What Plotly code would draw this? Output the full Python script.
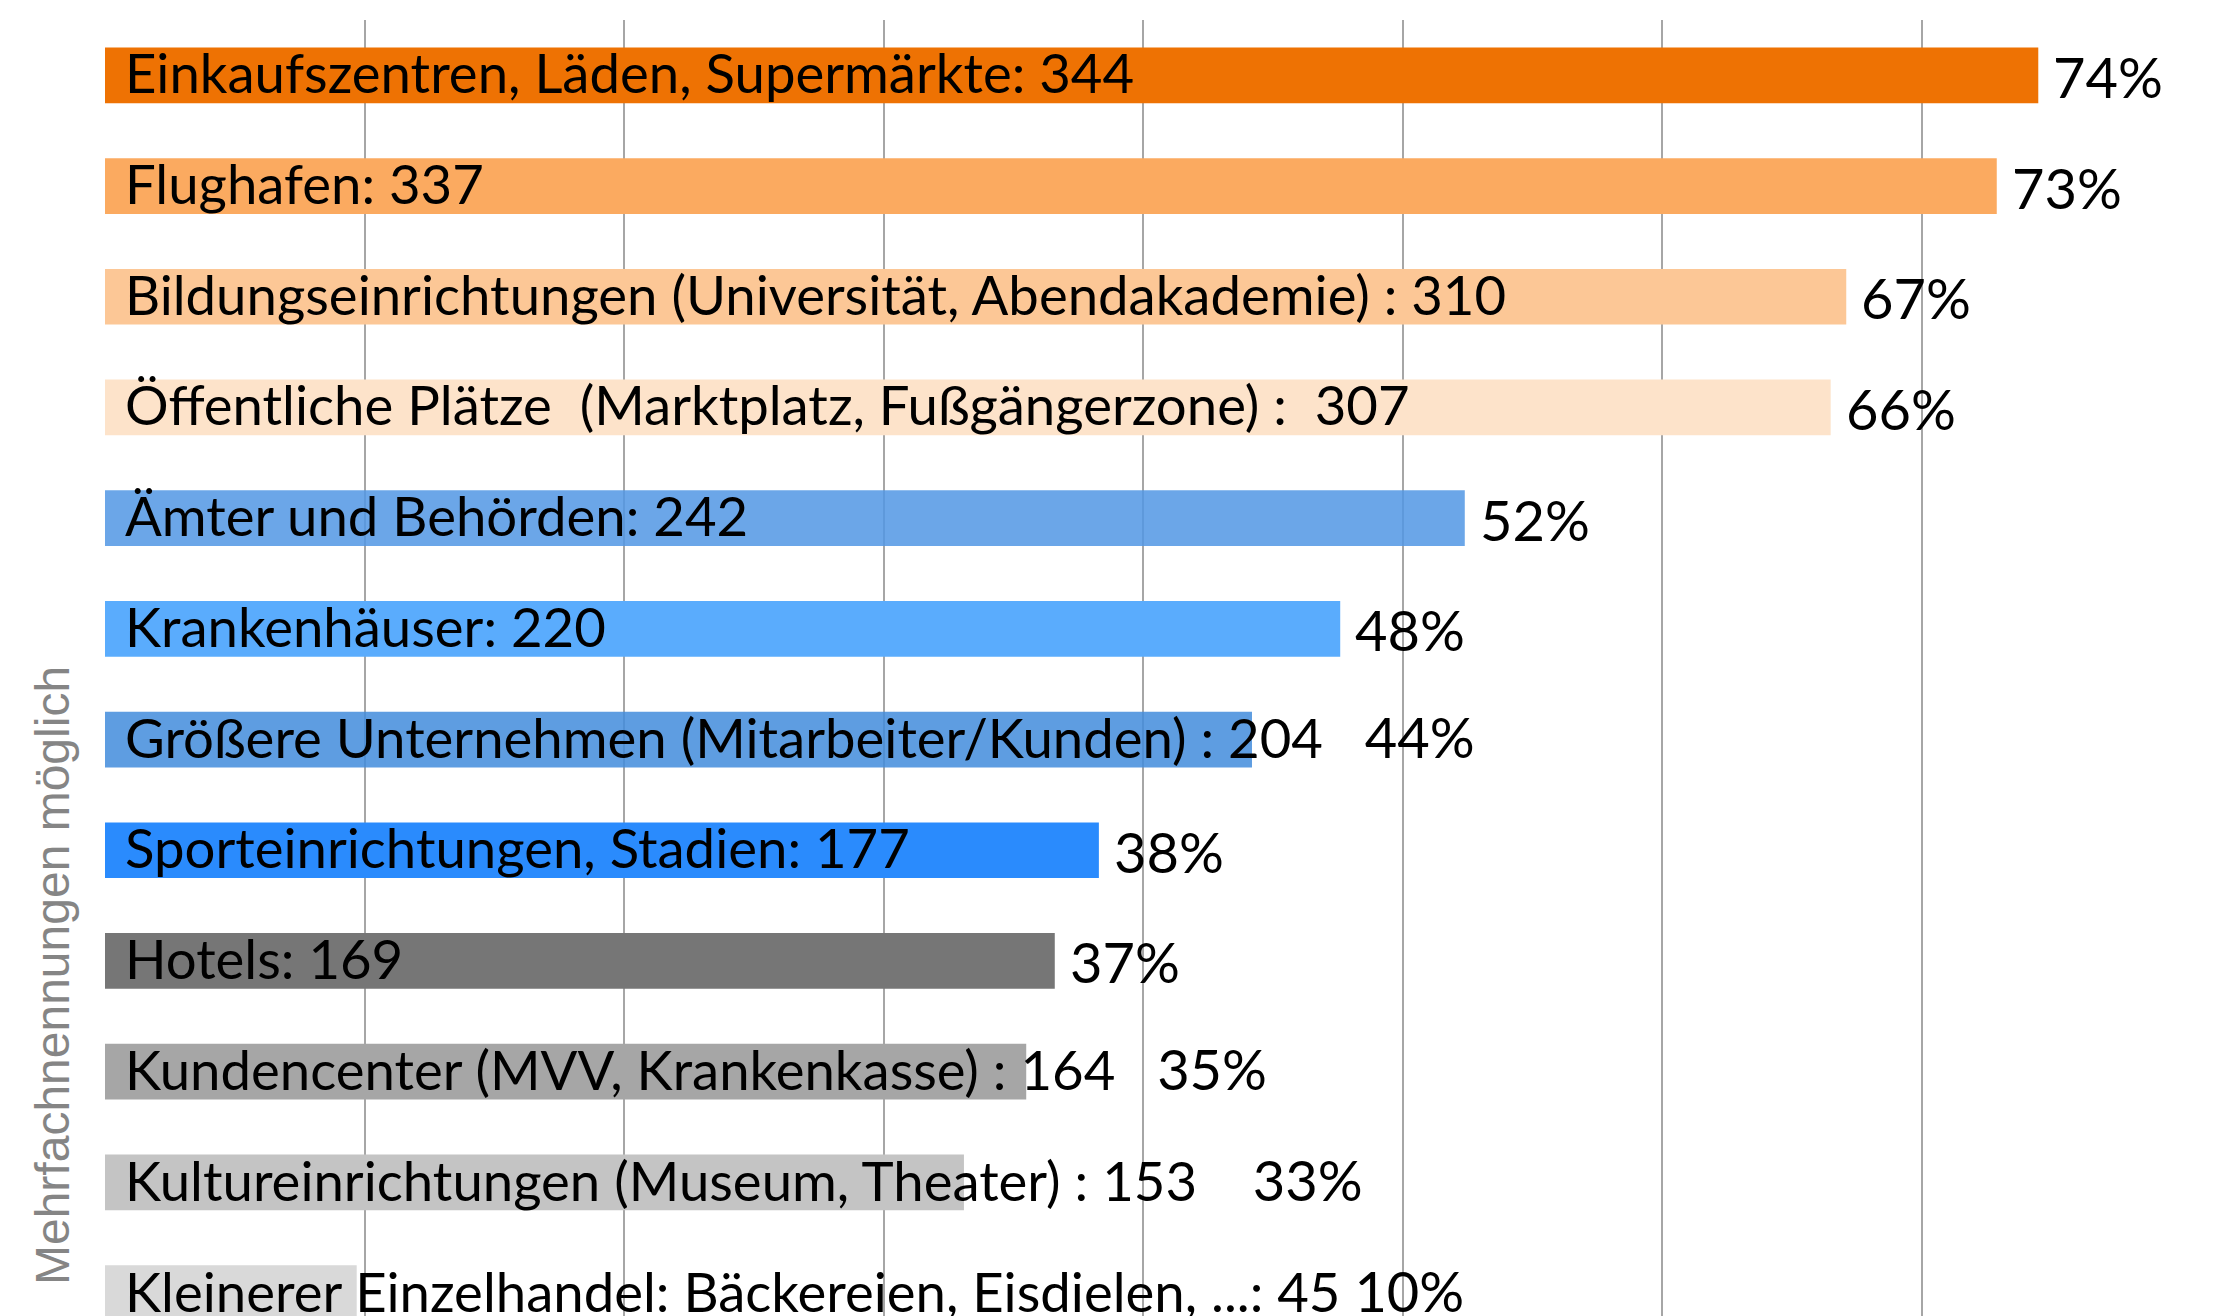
import plotly.graph_objects as go

# ---- data ----
categories = [
    "Einkaufszentren, Läden, Supermärkte: 344",
    "Flughafen: 337",
    "Bildungseinrichtungen (Universität, Abendakademie) : 310",
    "Öffentliche Plätze  (Marktplatz, Fußgängerzone) :  307",
    "Ämter und Behörden: 242",
    "Krankenhäuser: 220",
    "Größere Unternehmen (Mitarbeiter/Kunden) : 204",
    "Sporteinrichtungen, Stadien: 177",
    "Hotels: 169",
    "Kundencenter (MVV, Krankenkasse) : 164",
    "Kultureinrichtungen (Museum, Theater) : 153",
    "Kleinerer Einzelhandel: Bäckereien, Eisdielen, ...: 45",
]
counts = [344, 337, 310, 307, 242, 220, 204, 177, 169, 164, 153, 45]
shares = [74.5, 72.9, 67.1, 66.5, 52.4, 47.6, 44.2, 38.3, 36.6, 35.5, 33.1, 9.7]
pct_labels = ["74%", "73%", "67%", "66%", "52%", "48%", "44%", "38%", "37%", "35%", "33%", "10%"]
axis_title = "Mehrfachnennungen möglich"

# ---- styles ----
bar_colors = [
    "#EE7203", "#FBAA60", "#FCC796", "#FDE3CA",
    "rgba(81,150,228,0.85)", "#5AACFD", "rgba(66,140,220,0.85)", "#2A8BFD",
    "#767676", "#A6A6A6", "#C4C4C4", "#D9D9D9",
]
# labels that run past their bar: percentage follows the label text,
# separated by this many spaces (0 = percentage sits right of the bar)
pct_after_label_spaces = [0, 0, 0, 0, 0, 0, 3, 0, 0, 3, 4, 1]

PAGE_OFFSET = 8  # default body margin of the html page
W, H = 2219 - PAGE_OFFSET, 1316 - PAGE_OFFSET
ML, MR, MT, MB = 105 - PAGE_OFFSET, 38, 20 - PAGE_OFFSET, 0
pitch_px = 110.7
plot_h = H - MT - MB
plot_w = W - ML - MR
y_bottom = -0.5 + plot_h / pitch_px

FONT = "Lato"
LABEL_SIZE = 54.5
PCT_SIZE = 56

ypos = list(range(len(categories)))

fig = go.Figure()
fig.add_trace(go.Bar(
    x=shares, y=ypos, orientation="h",
    marker=dict(color=bar_colors, line=dict(width=0)),
    width=0.503, hoverinfo="skip", showlegend=False,
))

annotations = []
for i, (lab, share, pct, nsp) in enumerate(zip(categories, shares, pct_labels, pct_after_label_spaces)):
    if nsp > 0:
        txt = lab + "&nbsp;" * nsp + f"<span style='font-size:{PCT_SIZE}px'>{pct}</span>"
    else:
        txt = lab
    annotations.append(dict(
        x=0, y=i, xref="x", yref="y", text=txt, showarrow=False,
        xanchor="left", yanchor="middle", xshift=19, yshift=3, borderpad=0,
        font=dict(family=FONT, size=LABEL_SIZE, color="#000000"),
    ))
    if nsp == 0:
        annotations.append(dict(
            x=share, y=i, xref="x", yref="y", text=pct, showarrow=False,
            xanchor="left", yanchor="middle", xshift=14, yshift=-1, borderpad=0,
            font=dict(family=FONT, size=PCT_SIZE, color="#000000"),
        ))

title_cx = 53 - PAGE_OFFSET      # figure px
title_cy = 976 - PAGE_OFFSET     # figure px
annotations.append(dict(
    x=(title_cx - ML) / plot_w, y=(H - MB - title_cy) / plot_h,
    xref="paper", yref="paper", text=axis_title, showarrow=False,
    textangle=-90, xanchor="center", yanchor="middle",
    font=dict(family="Liberation Sans, Arial, sans-serif", size=48, color="#858585"),
))

fig.update_layout(
    width=W, height=H,
    margin=dict(l=ML, r=MR, t=MT, b=MB, pad=0, autoexpand=False),
    paper_bgcolor="white", plot_bgcolor="white",
    bargap=0.5,
    annotations=annotations,
    xaxis=dict(range=[0, 80], dtick=10, tick0=0, showgrid=True, gridcolor="#A6A6A6",
               gridwidth=2, zeroline=False, showticklabels=False, ticks="",
               showline=False, fixedrange=True),
    yaxis=dict(range=[y_bottom, -0.5], showgrid=False, zeroline=False,
               showticklabels=False, ticks="", showline=False, fixedrange=True),
)

fig.write_html("out.html")
